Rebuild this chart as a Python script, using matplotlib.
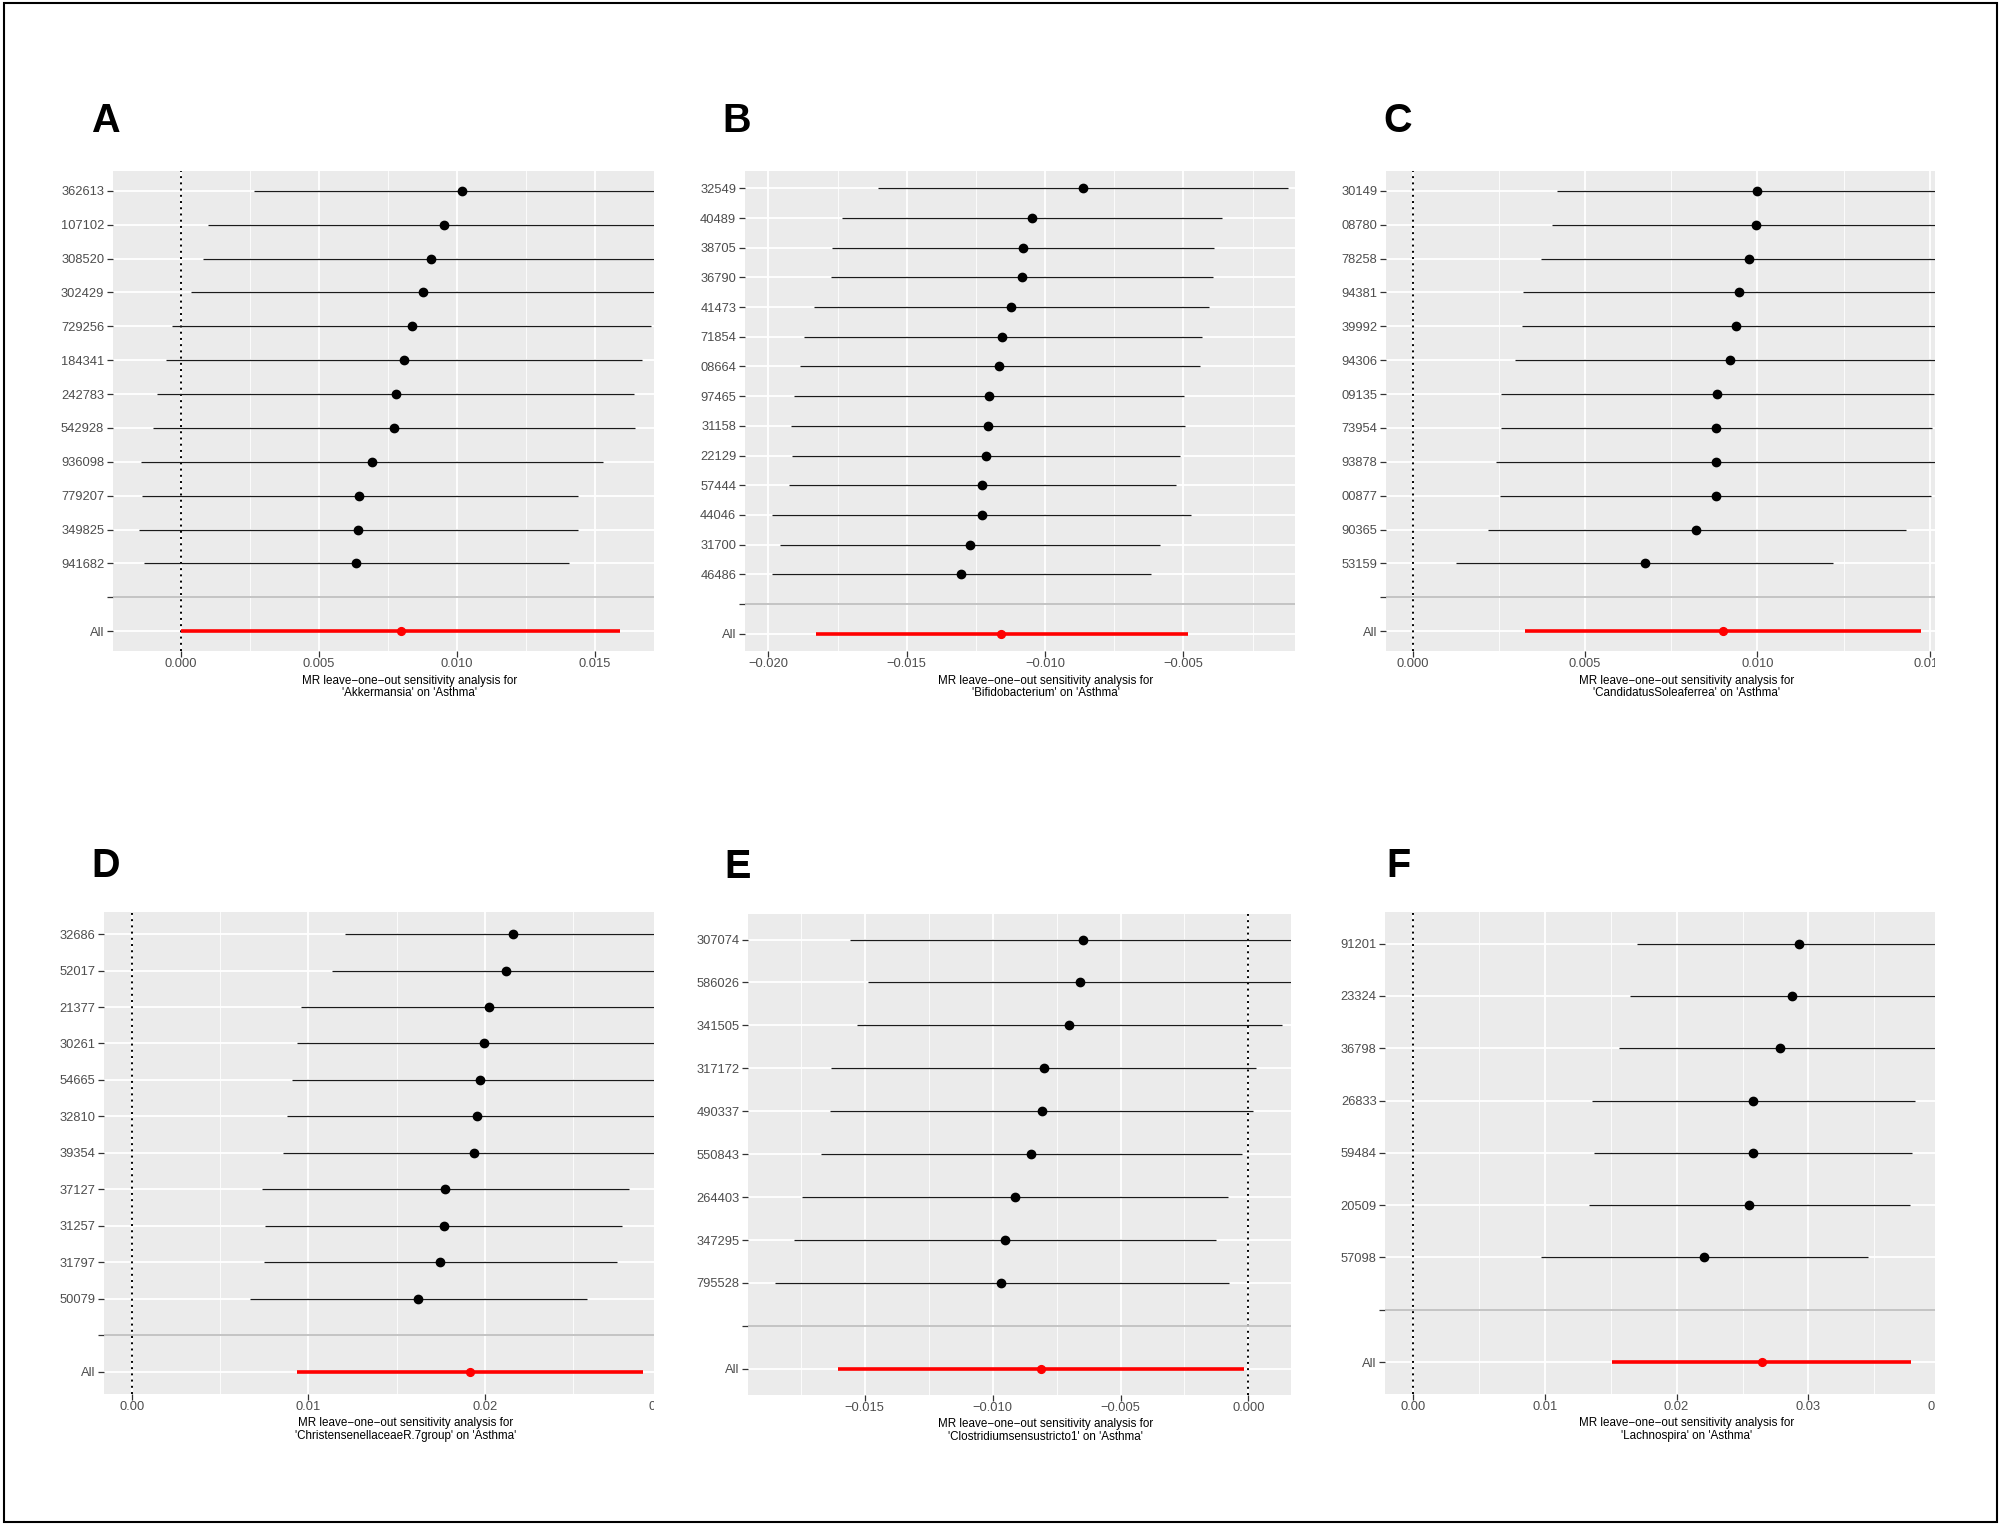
import numpy as np
import matplotlib
matplotlib.use('Agg')
import matplotlib.pyplot as plt
from matplotlib.patches import Rectangle
from matplotlib.transforms import Bbox, TransformedBbox

plt.rcParams['font.family'] = ['Liberation Sans', 'DejaVu Sans']

W, H = 2000, 1525

# ---- data (SNP labels are the visible parts of the cropped panels) ----
# A: Akkermansia
A_snps = ["362613", "107102", "308520", "302429", "729256", "184341",
          "242783", "542928", "936098", "779207", "349825", "941682"]
A_b = [0.01017, 0.00954, 0.00908, 0.00879, 0.00836, 0.00808, 0.00778, 0.00772, 0.00693, 0.00647, 0.00643, 0.00636]
A_lo = [0.00265, 0.00100, 0.00080, 0.00036, -0.00032, -0.00053, -0.00086, -0.00102, -0.00145, -0.00142, -0.00152, -0.00133]
A_hi = [0.01768, 0.01807, 0.01735, 0.01723, 0.01704, 0.01671, 0.01642, 0.01644, 0.01529, 0.01438, 0.01439, 0.01405]
A_all = [0.00796, 0.00002, 0.01589]

# B: Bifidobacterium
B_snps = ["32549", "40489", "38705", "36790", "41473", "71854", "08664",
          "97465", "31158", "22129", "57444", "44046", "31700", "46486"]
B_b = [-0.00864, -0.01049, -0.01081, -0.01085, -0.01124, -0.01155, -0.01165,
       -0.01203, -0.01207, -0.01213, -0.01227, -0.01227, -0.01272, -0.01303]
B_lo = [-0.01605, -0.01733, -0.01771, -0.01774, -0.01837, -0.01872, -0.01887,
        -0.01906, -0.01917, -0.01913, -0.01926, -0.01986, -0.01959, -0.01987]
B_hi = [-0.00122, -0.00362, -0.00388, -0.00394, -0.00407, -0.00433, -0.00442,
        -0.00498, -0.00494, -0.00512, -0.00526, -0.00471, -0.00586, -0.00618]
B_all = [-0.01158, -0.01827, -0.00485]

# C: CandidatusSoleaferrea
C_snps = ["30149", "08780", "78258", "94381", "39992", "94306",
          "09135", "73954", "93878", "00877", "90365", "53159"]
C_b = [0.01000, 0.00995, 0.00976, 0.00945, 0.00937, 0.00921, 0.00882, 0.00881, 0.00880, 0.00879, 0.00823, 0.00673]
C_lo = [0.00418, 0.00403, 0.00373, 0.00319, 0.00317, 0.00297, 0.00255, 0.00256, 0.00240, 0.00253, 0.00218, 0.00126]
C_hi = [0.01582, 0.01587, 0.01579, 0.01571, 0.01558, 0.01544, 0.01512, 0.01505, 0.01520, 0.01504, 0.01431, 0.01219]
C_all = [0.00899, 0.00326, 0.01474]

# D: ChristensenellaceaeR.7group
D_snps = ["32686", "52017", "21377", "30261", "54665", "32810",
          "39354", "37127", "31257", "31797", "50079"]
D_b = [0.02157, 0.02119, 0.02025, 0.01996, 0.01973, 0.01955, 0.01940, 0.01776, 0.01765, 0.01747, 0.01619]
D_lo = [0.01209, 0.01133, 0.00959, 0.00936, 0.00907, 0.00880, 0.00856, 0.00737, 0.00755, 0.00750, 0.00667]
D_hi = [0.03104, 0.03104, 0.03091, 0.03055, 0.03039, 0.03030, 0.03024, 0.02817, 0.02775, 0.02746, 0.02576]
D_all = [0.01915, 0.00936, 0.02896]

# E: Clostridiumsensustricto1
E_snps = ["307074", "586026", "341505", "317172", "490337",
          "550843", "264403", "347295", "795528"]
E_b = [-0.00647, -0.00658, -0.00701, -0.00801, -0.00807, -0.00850, -0.00913, -0.00952, -0.00966]
E_lo = [-0.01558, -0.01488, -0.01530, -0.01632, -0.01635, -0.01671, -0.01745, -0.01775, -0.01850]
E_hi = [0.00264, 0.00171, 0.00130, 0.00028, 0.00019, -0.00025, -0.00079, -0.00127, -0.00077]
E_all = [-0.00812, -0.01605, -0.00017]

# F: Lachnospira
F_snps = ["91201", "23324", "36798", "26833", "59484", "20509", "57098"]
F_b = [0.02928, 0.02877, 0.02786, 0.02582, 0.02582, 0.02547, 0.02204]
F_lo = [0.01701, 0.01645, 0.01560, 0.01359, 0.01374, 0.01337, 0.00969]
F_hi = [0.04154, 0.04110, 0.04013, 0.03811, 0.03789, 0.03767, 0.03450]
F_all = [0.02645, 0.01513, 0.03780]

exposures = ["Akkermansia", "Bifidobacterium", "CandidatusSoleaferrea",
             "ChristensenellaceaeR.7group", "Clostridiumsensustricto1", "Lachnospira"]

ticks_3dp_pos = [0.0, 0.005, 0.010, 0.015]
ticks_3dp_pos_lbl = ["0.000", "0.005", "0.010", "0.015"]
ticks_B = [-0.020, -0.015, -0.010, -0.005]
ticks_B_lbl = ["\u22120.020", "\u22120.015", "\u22120.010", "\u22120.005"]
ticks_D = [0.0, 0.01, 0.02, 0.03]
ticks_D_lbl = ["0.00", "0.01", "0.02", "0.03"]
ticks_E = [-0.015, -0.010, -0.005, 0.0]
ticks_E_lbl = ["\u22120.015", "\u22120.010", "\u22120.005", "0.000"]
ticks_F = [0.0, 0.01, 0.02, 0.03, 0.04]
ticks_F_lbl = ["0.00", "0.01", "0.02", "0.03", "0.04"]

fig = plt.figure(figsize=(W / 100, H / 100), dpi=100)


def draw_panel(box, letter, letter_xy, snps, b, lo, hi, all_est,
               xlim, majors, major_lbls, minors, exposure):
    L, R, T, B = box
    ax = fig.add_axes([L / W, 1 - B / H, (R - L) / W, (B - T) / H])
    n = len(snps)
    y = np.arange(n + 2, 2, -1)
    ax.set_facecolor('#EBEBEB')
    for s in ax.spines.values():
        s.set_visible(False)

    ax.axvline(0, color='black', ls=(0, (1, 2.2)), lw=1.4, zorder=2)
    ax.hlines(y, lo, hi, color='#1a1a1a', lw=0.9, zorder=3)
    ax.plot(b, y, 'o', color='black', ms=6, zorder=4)
    ax.hlines(1, all_est[1], all_est[2], color='red', lw=2.6, zorder=3)
    ax.plot(all_est[0], 1, 'o', color='red', ms=5.6, zorder=4)
    ax.axhline(2, color='#BEBEBE', lw=1.3, zorder=2.5)

    ax.set_xlim(xlim)
    ax.set_ylim(0.4, n + 2.6)
    vis = [m for m in majors if xlim[0] <= m <= xlim[1]]
    ax.set_xticks(vis)
    ax.set_xticks(minors, minor=True)
    ax.set_yticks(np.arange(1, n + 3))
    ax.set_yticklabels(['All', ''] + snps[::-1])
    ax.grid(which='major', color='white', lw=1.3)
    ax.grid(which='minor', axis='x', color='white', lw=0.6)
    ax.set_axisbelow(True)
    ax.tick_params(axis='both', which='major', length=4, width=0.9, color='#333333',
                   labelsize=9.3, labelcolor='#4D4D4D', pad=2, labelbottom=False)
    ax.tick_params(which='minor', length=0)

    # x tick labels drawn by hand so the ones cut by the panel crop stay partly visible
    clip = TransformedBbox(Bbox.from_extents(0, 0, R / W, 1), fig.transFigure)
    for m, s in zip(majors, major_lbls):
        t = ax.annotate(s, xy=(m, 0), xycoords=('data', 'axes fraction'),
                        xytext=(0, -9.4), textcoords='offset points',
                        ha='center', va='center', fontsize=9.3, color='#4D4D4D',
                        annotation_clip=False)
        t.set_clip_box(clip)
        t.set_clip_on(True)

    ax.annotate("MR leave\u2212one\u2212out sensitivity analysis for\n'%s' on 'Asthma'" % exposure,
                xy=(0.548, 0), xycoords='axes fraction', xytext=(0, -25.8),
                textcoords='offset points', ha='center', va='center',
                fontsize=8.4, linespacing=1.05, color='black')

    fig.text(letter_xy[0] / W, 1 - letter_xy[1] / H, letter, fontsize=28.5,
             fontweight='bold', ha='left', va='baseline')
    return ax


draw_panel((112.6, 654.3, 170.6, 651.4), 'A', (90.7, 131.7), A_snps, A_b, A_lo, A_hi, A_all,
           (-0.00247, 0.01715), ticks_3dp_pos, ticks_3dp_pos_lbl, [0.0025, 0.0075, 0.0125], exposures[0])
draw_panel((744.6, 1294.7, 170.6, 651.4), 'B', (722, 132.2), B_snps, B_b, B_lo, B_hi, B_all,
           (-0.02086, -0.00098), ticks_B, ticks_B_lbl, [-0.0175, -0.0125, -0.0075, -0.0025], exposures[1])
draw_panel((1385.6, 1935.3, 170.6, 651.4), 'C', (1383, 132), C_snps, C_b, C_lo, C_hi, C_all,
           (-0.00079, 0.01516), ticks_3dp_pos, ticks_3dp_pos_lbl, [0.0025, 0.0075, 0.0125], exposures[2])
draw_panel((103.9, 654.3, 912.2, 1393.5), 'D', (91.6, 877.4), D_snps, D_b, D_lo, D_hi, D_all,
           (-0.00159, 0.02959), ticks_D, ticks_D_lbl, [0.005, 0.015, 0.025], exposures[3])
draw_panel((747.9, 1290.6, 913.8, 1394.6), 'E', (724.1, 878.2), E_snps, E_b, E_lo, E_hi, E_all,
           (-0.01957, 0.00165), ticks_E, ticks_E_lbl, [-0.0175, -0.0125, -0.0075, -0.0025], exposures[4])
draw_panel((1385.1, 1935.3, 912.2, 1393.5), 'F', (1386, 876.7), F_snps, F_b, F_lo, F_hi, F_all,
           (-0.00211, 0.03962), ticks_F, ticks_F_lbl, [0.005, 0.015, 0.025, 0.035], exposures[5])

# outer frame
fig.add_artist(Rectangle((3.5 / W, 3.3 / H), 1993.2 / W, 1518.7 / H, transform=fig.transFigure,
                         fill=False, lw=1.5, ec='black'))

fig.savefig('out.png', dpi=100, facecolor='white')
